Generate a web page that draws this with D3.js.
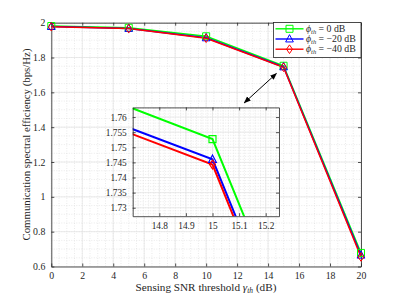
<!DOCTYPE html>
<html><head><meta charset="utf-8">
<script src="https://cdn.jsdelivr.net/npm/d3@7"></script>
<style>body{margin:0;background:#fff}svg{display:block}text{font-family:"Liberation Serif","Times New Roman",serif;fill:#262626}</style>
</head><body><svg id="c" width="399" height="299"></svg>
<script>
const xVals = [0, 5, 10, 15, 20];
const seriesNames = ["0 dB", "\u221220 dB", "\u221240 dB"];
const green = [1.981, 1.971, 1.922, 1.7527, 0.678];
const blue  = [1.978, 1.967, 1.913, 1.7460, 0.665];
const red   = [1.977, 1.966, 1.911, 1.7443, 0.655];
const colors = ["#00ff00", "#0000ff", "#ff0000"];
const markers = ["square", "triangle", "diamond"];
const xTicks = [0, 2, 4, 6, 8, 10, 12, 14, 16, 18, 20];
const yTicks = [0.6, 0.8, 1, 1.2, 1.4, 1.6, 1.8, 2];
const insetXTicks = [14.8, 14.9, 15, 15.1, 15.2];
const insetYTicks = [1.73, 1.735, 1.74, 1.745, 1.75, 1.755, 1.76];

const series = [green, blue, red];
const svg = d3.select("#c");
svg.append("rect").attr("width",399).attr("height",299).attr("fill","#fff");

function markerPath(type, s) {
  if (type === "square") return d3.symbol(d3.symbolSquare, s*s)();
  if (type === "triangle") return `M0,${-s*0.62}L${s*0.55},${s*0.42}L${-s*0.55},${s*0.42}Z`;
  return `M0,${-s*0.62}L${s*0.42},0L0,${s*0.62}L${-s*0.42},0Z`;
}

function drawAxes(g, x, y, xt, yt, xMinorStep, yMinorStep, fmtX, fmtY, fs) {
  const [x0, x1] = x.range(), [y0, y1] = y.range();
  g.append("rect").attr("x",x0).attr("y",y1).attr("width",x1-x0).attr("height",y0-y1).attr("fill","#fff");
  const [dx0, dx1] = x.domain(), [dy0, dy1] = y.domain();
  const minorX = d3.range(Math.ceil(dx0/xMinorStep-1e-6)*xMinorStep, dx1+1e-9, xMinorStep);
  const minorY = d3.range(Math.ceil(dy0/yMinorStep-1e-6)*yMinorStep, dy1+1e-9, yMinorStep);
  g.selectAll(null).data(minorX).join("line")
    .attr("x1",d=>x(d)).attr("x2",d=>x(d)).attr("y1",y0).attr("y2",y1)
    .attr("stroke","#dcdcdc").attr("stroke-width",0.6).attr("stroke-dasharray","1,1.5");
  g.selectAll(null).data(minorY).join("line")
    .attr("y1",d=>y(d)).attr("y2",d=>y(d)).attr("x1",x0).attr("x2",x1)
    .attr("stroke","#dcdcdc").attr("stroke-width",0.6).attr("stroke-dasharray","1,1.5");
  g.selectAll(null).data(xt).join("line")
    .attr("x1",d=>x(d)).attr("x2",d=>x(d)).attr("y1",y0).attr("y2",y1)
    .attr("stroke","#e2e2e2").attr("stroke-width",0.7);
  g.selectAll(null).data(yt).join("line")
    .attr("y1",d=>y(d)).attr("y2",d=>y(d)).attr("x1",x0).attr("x2",x1)
    .attr("stroke","#e2e2e2").attr("stroke-width",0.7);
  const ax = g.append("g").attr("class","axes");
  const bottom = d3.axisBottom(x).tickValues(xt).tickSizeInner(-3).tickSizeOuter(0).tickPadding(6).tickFormat(fmtX);
  const top = d3.axisTop(x).tickValues(xt).tickSizeInner(-3).tickSizeOuter(0).tickFormat("");
  const left = d3.axisLeft(y).tickValues(yt).tickSizeInner(-3).tickSizeOuter(0).tickPadding(6).tickFormat(fmtY);
  const right = d3.axisRight(y).tickValues(yt).tickSizeInner(-3).tickSizeOuter(0).tickFormat("");
  ax.append("g").attr("transform",`translate(0,${y0})`).call(bottom);
  ax.append("g").attr("transform",`translate(0,${y1})`).call(top);
  ax.append("g").attr("transform",`translate(${x0},0)`).call(left);
  ax.append("g").attr("transform",`translate(${x1},0)`).call(right);
  ax.selectAll("path.domain").attr("stroke","#262626").attr("stroke-width",0.8);
  ax.selectAll(".tick line").attr("stroke","#262626").attr("stroke-width",0.8);
  ax.selectAll(".tick text").attr("font-family","Liberation Serif, serif").attr("font-size",fs).attr("fill","#262626");
}

// Main axes
const x = d3.scaleLinear().domain([0,20]).range([51.3,361]);
const y = d3.scaleLinear().domain([0.6,2]).range([266.5,22.7]);
const main = svg.append("g");
drawAxes(main, x, y, xTicks, yTicks, 0.5, 0.05, d3.format("d"), d=>d3.format("")(d), 9.8);

const line = d3.line().x((d,i)=>x(xVals[i])).y(d=>y(d));
series.forEach((s,k)=>{
  main.append("path").attr("d",line(s)).attr("fill","none").attr("stroke",colors[k]).attr("stroke-width",1.5);
});
series.forEach((s,k)=>{
  main.selectAll(null).data(s).join("path")
    .attr("transform",(d,i)=>`translate(${x(xVals[i])},${y(d)})`)
    .attr("d",markerPath(markers[k],7)).attr("fill","none").attr("stroke",colors[k]).attr("stroke-width",1);
});

// Legend
const lg = svg.append("g");
lg.append("rect").attr("x",273.5).attr("y",22.5).attr("width",87.5).attr("height",35)
  .attr("fill","#fff").attr("stroke","#262626").attr("stroke-width",0.8);
seriesNames.forEach((n,k)=>{
  const yy = 28.8 + k*10.2;
  lg.append("line").attr("x1",275.5).attr("x2",303.5).attr("y1",yy).attr("y2",yy).attr("stroke",colors[k]).attr("stroke-width",1.4);
  lg.append("path").attr("transform",`translate(289.5,${yy})`).attr("d",markerPath(markers[k],7))
    .attr("fill","none").attr("stroke",colors[k]).attr("stroke-width",1);
  const t = lg.append("text").attr("x",306).attr("y",yy+3.2).attr("font-size",9.8);
  t.append("tspan").attr("font-style","italic").text("\u03d5");
  t.append("tspan").attr("font-style","italic").attr("font-size",6.5).attr("dy",1.8).text("th");
  t.append("tspan").attr("dy",-1.8).text(" = " + n);
});

// Arrow
const defs = svg.append("defs");
defs.append("marker").attr("id","ah").attr("viewBox","0 0 10 10").attr("refX",9).attr("refY",5)
  .attr("markerWidth",7).attr("markerHeight",7).attr("orient","auto-start-reverse").attr("markerUnits","userSpaceOnUse")
  .append("path").attr("d","M0,1L10,5L0,9Z").attr("fill","#000");
svg.append("line").attr("x1",244.3).attr("y1",102.8).attr("x2",276.4).attr("y2",73.5)
  .attr("stroke","#000").attr("stroke-width",1).attr("marker-start","url(#ah)").attr("marker-end","url(#ah)");

// Inset
const xi = d3.scaleLinear().domain([14.7,15.25]).range([132.7,279]);
const yi = d3.scaleLinear().domain([1.7272,1.7632]).range([216.2,107.4]);
const inset = svg.append("g");
defs.append("clipPath").attr("id","ci").append("rect").attr("x",132.7).attr("y",107.4).attr("width",146.3).attr("height",108.8);
drawAxes(inset, xi, yi, insetXTicks, insetYTicks, 0.02, 0.001, d3.format(""), d3.format(""), 9.3);
const linei = d3.line().x((d,i)=>xi(xVals[i])).y(d=>yi(d));
const pl = inset.append("g").attr("clip-path","url(#ci)");
series.forEach((s,k)=>{
  pl.append("path").attr("d",linei(s)).attr("fill","none").attr("stroke",colors[k]).attr("stroke-width",2);
});
series.forEach((s,k)=>{
  pl.selectAll(null).data(s).join("path")
    .attr("transform",(d,i)=>`translate(${xi(xVals[i])},${yi(d)})`)
    .attr("d",markerPath(markers[k],7)).attr("fill","none").attr("stroke",colors[k]).attr("stroke-width",1.2);
});
inset.select(".axes").raise();

// Axis labels
const xl = svg.append("text").attr("x",206).attr("y",291).attr("text-anchor","middle").attr("font-size",11.2);
xl.append("tspan").text("Sensing SNR threshold ");
xl.append("tspan").attr("font-style","italic").text("\u03b3");
xl.append("tspan").attr("font-style","italic").attr("font-size",7.5).attr("dy",2).text("th");
xl.append("tspan").attr("dy",-2).text(" (dB)");
svg.append("text").attr("transform","translate(30,144.5) rotate(-90)").attr("text-anchor","middle")
  .attr("font-size",10.8).text("Communication spectral efficiency (bps/Hz)");
</script></body></html>
